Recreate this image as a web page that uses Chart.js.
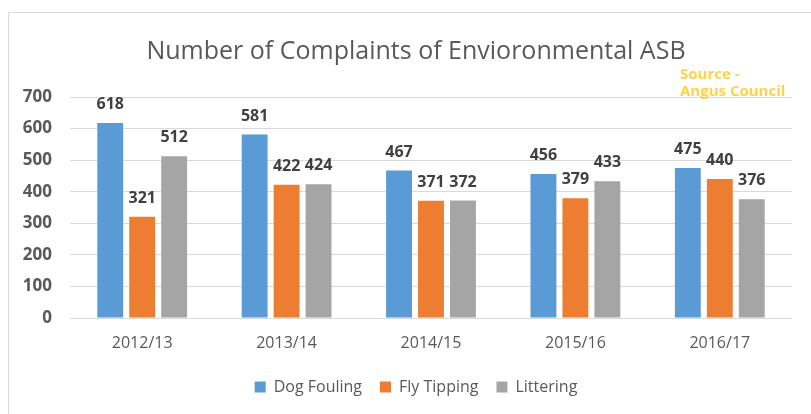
<!DOCTYPE html>
<html>
<head>
<meta charset="utf-8">
<script src="https://cdn.jsdelivr.net/npm/chart.js@4"></script>
<style>
  html, body { margin: 0; padding: 0; background: #fff; }
  #wrap { width: 811px; height: 414px; position: relative; }
</style>
</head>
<body>
<div id="wrap"><canvas id="c" width="811" height="414"></canvas></div>
<script>
const categories = ['2012/13', '2013/14', '2014/15', '2015/16', '2016/17'];
const dogFouling = [618, 581, 467, 456, 475];
const flyTipping = [321, 422, 371, 379, 440];
const littering = [512, 424, 372, 433, 376];
const seriesNames = ['Dog Fouling', 'Fly Tipping', 'Littering'];
const titleText = 'Number of Complaints of Envioronmental ASB';
const sourceLines = ['Source -', 'Angus Council'];

const FONT = '"Open Sans", "DejaVu Sans", sans-serif';

const borderPlugin = {
  id: 'frame',
  beforeDraw(chart) {
    const ctx = chart.ctx;
    ctx.save();
    ctx.strokeStyle = '#D9D9D9';
    ctx.lineWidth = 1;
    ctx.beginPath();
    ctx.moveTo(8.5, 414);
    ctx.lineTo(8.5, 12.5);
    ctx.lineTo(811, 12.5);
    ctx.stroke();
    ctx.restore();
  }
};

// shift title and legend horizontally so they are centred like the reference
const shiftPlugin = {
  id: 'shiftBoxes',
  afterLayout(chart) {
    const dx = 16;
    [chart.titleBlock, chart.legend].forEach(b => {
      if (b) { b.left += dx; b.right += dx; }
    });
  }
};

const labelPlugin = {
  id: 'valueLabels',
  afterDatasetsDraw(chart) {
    const ctx = chart.ctx;
    ctx.save();
    ctx.font = 'bold 16px ' + FONT;
    ctx.fillStyle = '#404040';
    ctx.textAlign = 'center';
    ctx.textBaseline = 'alphabetic';
    chart.data.datasets.forEach((ds, i) => {
      const meta = chart.getDatasetMeta(i);
      meta.data.forEach((bar, j) => {
        ctx.fillText(String(ds.data[j]), bar.x, bar.y - 14);
      });
    });
    ctx.restore();
  }
};

const sourcePlugin = {
  id: 'source',
  afterDraw(chart) {
    const ctx = chart.ctx;
    ctx.save();
    ctx.font = 'bold 15px ' + FONT;
    ctx.fillStyle = 'rgba(255,192,0,0.72)';
    ctx.textAlign = 'left';
    ctx.textBaseline = 'middle';
    ctx.fillText(sourceLines[0], 680, 75);
    ctx.fillText(sourceLines[1], 680, 92);
    ctx.restore();
  }
};

new Chart(document.getElementById('c'), {
  type: 'bar',
  data: {
    labels: categories,
    datasets: [
      { label: seriesNames[0], data: dogFouling, backgroundColor: '#5B9BD5' },
      { label: seriesNames[1], data: flyTipping, backgroundColor: '#ED7D31' },
      { label: seriesNames[2], data: littering, backgroundColor: '#A5A5A5' }
    ]
  },
  options: {
    responsive: false,
    animation: false,
    devicePixelRatio: 1,
    categoryPercentage: 0.664,
    barPercentage: 0.81,
    layout: { padding: { left: 8, right: 19, top: 0, bottom: 9 } },
    plugins: {
      title: {
        display: true,
        text: titleText,
        color: '#595959',
        font: { family: FONT, size: 25, weight: 'normal', lineHeight: 1.2 },
        padding: { top: 37, bottom: 30 }
      },
      legend: {
        position: 'bottom',
        labels: {
          color: '#595959',
          font: { family: FONT, size: 16 },
          boxWidth: 11,
          boxHeight: 11,
          padding: 18
        }
      },
      tooltip: { enabled: false }
    },
    scales: {
      x: {
        afterFit(scale) { scale.height = 43; },
        grid: { display: false, drawTicks: false },
        border: { display: false },
        ticks: { color: '#595959', font: { family: FONT, size: 16 }, padding: 16 }
      },
      y: {
        min: 0, max: 700,
        afterFit(scale) { scale.width = 62; },
        grid: { color: '#D9D9D9', drawTicks: false },
        border: { display: false },
        ticks: { stepSize: 100, color: '#595959', font: { family: FONT, size: 17, weight: 'bold' }, padding: 18 }
      }
    }
  },
  plugins: [borderPlugin, shiftPlugin, labelPlugin, sourcePlugin]
});
</script>
</body>
</html>
